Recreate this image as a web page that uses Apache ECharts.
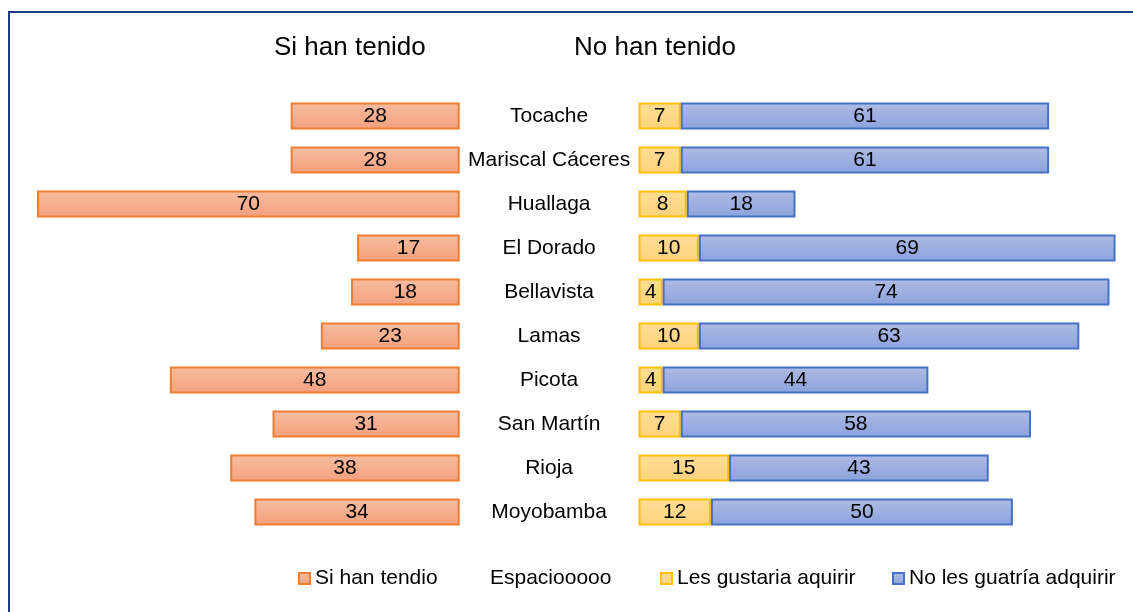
<!DOCTYPE html>
<html>
<head>
<meta charset="utf-8">
<script src="https://cdn.jsdelivr.net/npm/echarts@6/dist/echarts.min.js"></script>
<style>
  html, body { margin: 0; padding: 0; background: #fff; }
  #chart { width: 1133px; height: 612px; }
  .frame { position: absolute; left: 8px; top: 11px; width: 1140px; height: 620px; border: 2px solid #1f3c88; box-sizing: border-box; pointer-events: none; }
</style>
</head>
<body>
<div id="chart"></div>
<div class="frame"></div>
<script>
// provincias, de arriba hacia abajo
const provincias = ['Tocache', 'Mariscal Cáceres', 'Huallaga', 'El Dorado', 'Bellavista', 'Lamas', 'Picota', 'San Martín', 'Rioja', 'Moyobamba'];
const siHanTenido = [28, 28, 70, 17, 18, 23, 48, 31, 38, 34];
const lesGustaria = [7, 7, 8, 10, 4, 10, 4, 7, 15, 12];
const noLesGustaria = [61, 61, 18, 69, 74, 63, 44, 58, 43, 50];
const espacio = [29.6, 29.6, 29.6, 29.6, 29.6, 29.6, 29.6, 29.6, 29.6, 29.6];

const FONT = 'Liberation Sans, Arial, sans-serif';

const grad = (top, bottom) => new echarts.graphic.LinearGradient(0, 0, 0, 1, [
  { offset: 0, color: top },
  { offset: 1, color: bottom }
]);

const numLabel = {
  show: true,
  position: 'inside',
  color: '#000',
  fontSize: 21,
  fontFamily: FONT
};

const chart = echarts.init(document.getElementById('chart'));

const legendBase = {
  bottom: 23,
  padding: 0,
  icon: 'rect',
  itemWidth: 11,
  itemHeight: 11,
  itemGap: 4,
  textStyle: { fontSize: 21, color: '#000', fontFamily: FONT, padding: [0, 0, 0, 0] }
};

const option = {
  animation: false,
  title: [
    { text: 'Si han tenido', left: 274, top: 35, padding: 0, textStyle: { fontSize: 26, fontWeight: 'normal', color: '#000', fontFamily: FONT } },
    { text: 'No han tenido', left: 574, top: 35, padding: 0, textStyle: { fontSize: 26, fontWeight: 'normal', color: '#000', fontFamily: FONT } }
  ],
  legend: [
    Object.assign({}, legendBase, { left: 298, data: ['Si han tendio'] }),
    Object.assign({}, legendBase, { left: 474, data: [{ name: 'Espaciooooo', itemStyle: { color: 'rgba(0,0,0,0)', borderWidth: 0 } }] }),
    Object.assign({}, legendBase, { left: 660, data: ['Les gustaria aquirir'] }),
    Object.assign({}, legendBase, { left: 892, data: ['No les guatría adquirir'] })
  ],
  grid: { left: 37, right: 9, top: 94, bottom: 78 },
  xAxis: {
    type: 'value',
    min: -70,
    max: 110,
    show: false
  },
  yAxis: {
    type: 'category',
    data: provincias,
    inverse: true,
    show: false
  },
  series: [
    {
      name: 'Si han tendio',
      type: 'bar',
      stack: 'total',
      barWidth: 27,
      data: siHanTenido.map(v => -v),
      itemStyle: { color: grad('#F9BDA2', '#F4A07C'), borderColor: '#ED7D31', borderWidth: 2 },
      label: Object.assign({}, numLabel, { formatter: p => Math.abs(p.value) })
    },
    {
      name: 'Espaciooooo',
      type: 'bar',
      stack: 'total',
      barWidth: 27,
      data: espacio,
      itemStyle: { color: 'rgba(0,0,0,0)' },
      label: {
        show: true,
        position: 'inside',
        color: '#000',
        fontSize: 21,
        fontFamily: FONT,
        formatter: p => p.name
      }
    },
    {
      name: 'Les gustaria aquirir',
      type: 'bar',
      stack: 'total',
      barWidth: 27,
      data: lesGustaria,
      itemStyle: { color: grad('#FFDD97', '#FFD27A'), borderColor: '#FFC000', borderWidth: 2 },
      label: numLabel
    },
    {
      name: 'No les guatría adquirir',
      type: 'bar',
      stack: 'total',
      barWidth: 27,
      data: noLesGustaria,
      itemStyle: { color: grad('#AEBCE4', '#8CA2DC'), borderColor: '#4472C4', borderWidth: 2 },
      label: numLabel
    }
  ]
};

chart.setOption(option);
</script>
</body>
</html>
